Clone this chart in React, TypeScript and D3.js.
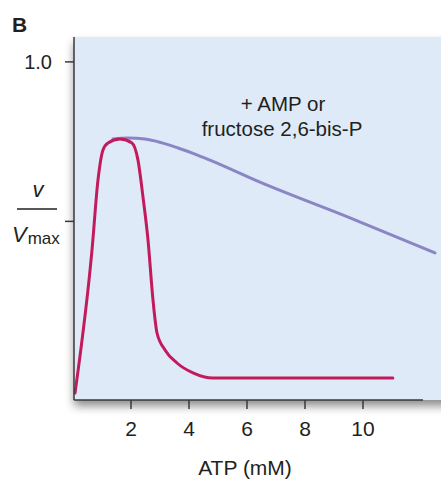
import React from 'react';
import * as d3 from 'd3';

// inhibited curve (ATP alone)
const atpInhibited = [0.07, 0.655, 0.862, 1.034, 1.207, 1.621, 2.034, 2.241, 2.414, 2.586, 2.759, 2.897, 3.172, 3.586, 4.138, 4.828, 7.5, 11.03];
const rateInhibited = [-0.038, 0.41, 0.63, 0.724, 0.746, 0.758, 0.746, 0.692, 0.576, 0.442, 0.253, 0.15, 0.097, 0.056, 0.025, 0.009, 0.009, 0.009];

// activated curve (+ AMP or fructose 2,6-bis-P)
const atpActivated = [1.379, 1.897, 2.483, 3.069, 3.621, 4.207, 4.724, 6.448, 9.552, 12.483];
const rateActivated = [0.758, 0.761, 0.758, 0.746, 0.73, 0.711, 0.692, 0.623, 0.511, 0.401];

const xTicks = [2, 4, 6, 8, 10];
const yTicks = [0.5, 1.0];

const W = 441;
const H = 483;
const left = 74;
const top = 37;
const bottom = 400;
const textColor = '#231f20';
const font = '"Liberation Sans", Arial, sans-serif';

export default function App() {
  const x = d3.scaleLinear().domain([0, 12.69]).range([73, W]);
  const y = d3.scaleLinear().domain([-0.06, 1.078]).range([bottom, top]);

  const line = d3.line<[number, number]>()
    .x(d => x(d[0]))
    .y(d => y(d[1]))
    .curve(d3.curveMonotoneX);

  const inhibited = atpInhibited.map((a, i) => [a, rateInhibited[i]] as [number, number]);
  const activated = atpActivated.map((a, i) => [a, rateActivated[i]] as [number, number]);

  return (
    <svg width={W} height={H} style={{ position: 'absolute', left: 0, top: 0, background: '#fff' }}>
      <defs>
        <filter id="shadow" x="-10%" y="-10%" width="130%" height="130%">
          <feDropShadow dx="0" dy="6" stdDeviation="5" floodColor="#000" floodOpacity="0.45" />
        </filter>
        <clipPath id="plot">
          <rect x={left} y={top} width={W - left} height={bottom - top} />
        </clipPath>
      </defs>

      <rect x={left} y={top} width={W - left + 20} height={bottom - top} fill="#deeaf7" filter="url(#shadow)" />

      <g clipPath="url(#plot)" fill="none" strokeLinecap="round" strokeLinejoin="round">
        <path d={line(activated) || ''} stroke="#8a86c6" strokeWidth={3} />
        <path d={line(inhibited) || ''} stroke="#c21a5c" strokeWidth={3} />
      </g>

      {/* axes */}
      <line x1={left} x2={left} y1={top} y2={bottom} stroke="#3a3a3a" strokeWidth={1.5} />
      <line x1={left} x2={423} y1={bottom} y2={bottom} stroke="#3a3a3a" strokeWidth={1.5} />

      {xTicks.map(t => (
        <g key={t}>
          <line x1={x(t)} x2={x(t)} y1={bottom} y2={bottom + 9} stroke="#3a3a3a" strokeWidth={1.5} />
          <text x={x(t)} y={436} textAnchor="middle" fontFamily={font} fontSize={21} fill={textColor}>{t}</text>
        </g>
      ))}

      {yTicks.map(t => (
        <line key={t} x1={left - 9} x2={left} y1={y(t)} y2={y(t)} stroke="#3a3a3a" strokeWidth={1.5} />
      ))}
      <text x={52} y={y(1.0) + 7} textAnchor="end" fontFamily={font} fontSize={20} fill={textColor}>1.0</text>

      {/* v / Vmax label */}
      <text x={38} y={197} textAnchor="middle" fontFamily={font} fontSize={22} fontStyle="italic" fill={textColor}>v</text>
      <line x1={17} x2={57} y1={209} y2={209} stroke={textColor} strokeWidth={1.5} />
      <text x={12} y={242} fontFamily={font} fontSize={22} fill={textColor}>
        <tspan fontStyle="italic">V</tspan>
        <tspan fontSize={17} dx={1} dy={2}>max</tspan>
      </text>

      <text x={245} y={475} textAnchor="middle" fontFamily={font} fontSize={21} fill={textColor}>ATP (mM)</text>

      <text x={283} y={111} textAnchor="middle" fontFamily={font} fontSize={20.5} fill={textColor}>+ AMP or</text>
      <text x={282} y={136} textAnchor="middle" fontFamily={font} fontSize={20.5} fill={textColor}>fructose 2,6-bis-P</text>

      <text x={12} y={32} fontFamily={font} fontSize={21} fontWeight="bold" fill={textColor}>B</text>
    </svg>
  );
}
